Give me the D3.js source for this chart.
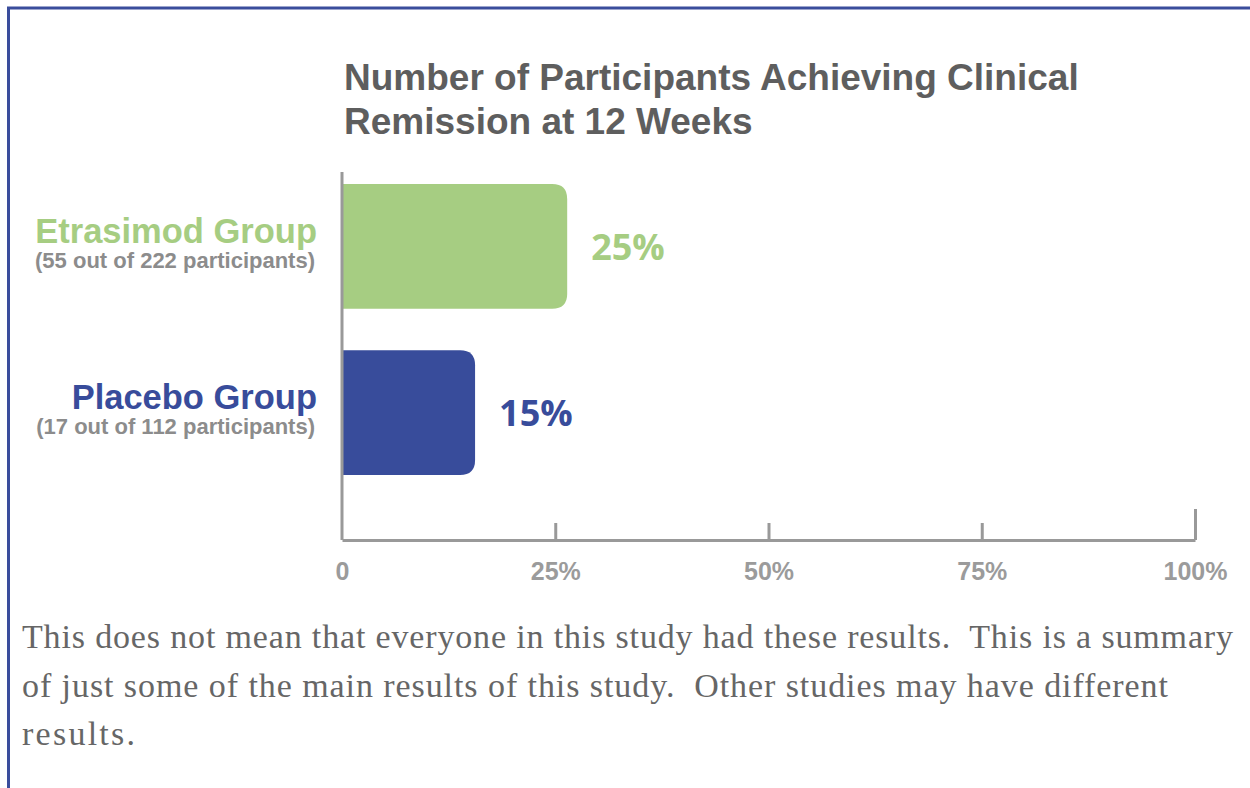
<!DOCTYPE html>
<html>
<head>
<meta charset="utf-8">
<script src="https://cdn.jsdelivr.net/npm/d3@7"></script>
<style>
  body { margin: 0; background: #fff; }
  svg text { white-space: pre; }
</style>
</head>
<body>
<div id="vis"></div>
<script>
// chart data
const groups = ["Etrasimod Group", "Placebo Group"];
const groupCounts = ["(55 out of 222 participants)", "(17 out of 112 participants)"];
const barValues = [26.4, 15.6];          // bar lengths as drawn (percent)
const valueLabels = ["25%", "15%"];
const groupColors = ["#a6cd82", "#384c9b"];
const tickValues = [0, 25, 50, 75, 100];
const tickLabels = ["0", "25%", "50%", "75%", "100%"];
const titleLines = ["Number of Participants Achieving Clinical", "Remission at 12 Weeks"];
const noteLines = [
    "This does not mean that everyone in this study had these results.  This is a summary",
    "of just some of the main results of this study.  Other studies may have different",
    "results."
];

const width = 1250;
const height = 788;

const svg = d3.select("#vis").append("svg")
    .attr("width", width)
    .attr("height", height);

// frame lines (top + left)
svg.append("line")
    .attr("x1", 7).attr("x2", width).attr("y1", 8).attr("y2", 8)
    .attr("stroke", "#3a4d9c").attr("stroke-width", 3);
svg.append("line")
    .attr("x1", 8.5).attr("x2", 8.5).attr("y1", 7).attr("y2", height)
    .attr("stroke", "#3a4d9c").attr("stroke-width", 3);

const x = d3.scaleLinear()
    .domain([0, 100])
    .range([342, 1195]);

const y = d3.scaleBand()
    .domain(groups)
    .range([172, 487])
    .paddingInner(0.25)
    .paddingOuter(0.072);

const axisY = 540;

// title
svg.append("text")
    .attr("font-family", "'Liberation Sans', Arial, sans-serif")
    .attr("font-weight", "bold")
    .attr("font-size", "37px")
    .attr("fill", "#5e5e5e")
    .selectAll("tspan")
    .data(titleLines)
    .join("tspan")
    .attr("x", 344)
    .attr("y", (d, i) => 90 + i * 44)
    .text(d => d);

// bars with rounded right corners
function barPath(d, i) {
    const x0 = x(0), x1 = x(barValues[i]);
    const y0 = y(d), h = y.bandwidth();
    const r = 15;
    return `M${x0},${y0}H${x1 - r}Q${x1},${y0} ${x1},${y0 + r}V${y0 + h - r}Q${x1},${y0 + h} ${x1 - r},${y0 + h}H${x0}Z`;
}

svg.append("g")
    .selectAll("path")
    .data(groups)
    .join("path")
    .attr("d", barPath)
    .attr("fill", (d, i) => groupColors[i]);

// value labels
svg.append("g")
    .selectAll("text")
    .data(groups)
    .join("text")
    .attr("x", (d, i) => x(barValues[i]) + 24)
    .attr("y", d => y(d) + y.bandwidth() / 2)
    .attr("dy", "0.37em")
    .attr("font-family", "'Open Sans', sans-serif")
    .attr("font-weight", 700)
    .attr("font-size", "36px")
    .attr("fill", (d, i) => groupColors[i])
    .text((d, i) => valueLabels[i]);

// group labels
const labels = svg.append("g")
    .attr("font-family", "'Liberation Sans', Arial, sans-serif")
    .attr("font-weight", "bold")
    .attr("text-anchor", "end");

labels.selectAll(".grp")
    .data(groups)
    .join("text")
    .attr("class", "grp")
    .attr("x", 317)
    .attr("y", d => y(d) + 59)
    .attr("font-size", "34.5px")
    .attr("fill", (d, i) => groupColors[i])
    .text(d => d);

labels.selectAll(".cnt")
    .data(groups)
    .join("text")
    .attr("class", "cnt")
    .attr("x", 315)
    .attr("y", d => y(d) + 84)
    .attr("font-size", "22px")
    .attr("fill", "#8c8c8c")
    .text((d, i) => groupCounts[i]);

// vertical axis line
svg.append("line")
    .attr("x1", x(0)).attr("x2", x(0))
    .attr("y1", 172).attr("y2", axisY)
    .attr("stroke", "#999").attr("stroke-width", 3);

// x axis
const xAxis = d3.axisBottom(x)
    .tickValues(tickValues)
    .tickFormat((d, i) => tickLabels[i])
    .tickSize(-17)
    .tickSizeOuter(0)
    .tickPadding(22);

const gx = svg.append("g")
    .attr("transform", `translate(0,${axisY})`)
    .call(xAxis);

gx.select(".domain").attr("stroke", "#999").attr("stroke-width", 3);
gx.selectAll(".tick line").attr("stroke", "#999").attr("stroke-width", 3);
gx.selectAll(".tick").filter(d => d === 0).select("line").remove();
gx.selectAll(".tick").filter(d => d === 100).select("line").attr("y2", -31);
gx.selectAll(".tick text")
    .attr("font-family", "'Liberation Sans', Arial, sans-serif")
    .attr("font-weight", "bold")
    .attr("font-size", "25px")
    .attr("fill", "#9b9b9b");

// footnote
const noteWidths = [1211, 1146, 113];
svg.append("g")
    .selectAll("text")
    .data(noteLines)
    .join("text")
    .attr("x", 22)
    .attr("y", (d, i) => 648 + i * 48.5)
    .attr("font-family", "'Liberation Serif', 'Times New Roman', serif")
    .attr("font-size", "34px")
    .attr("fill", "#666")
    .attr("textLength", (d, i) => noteWidths[i])
    .attr("lengthAdjust", "spacing")
    .text(d => d);
</script>
</body>
</html>
